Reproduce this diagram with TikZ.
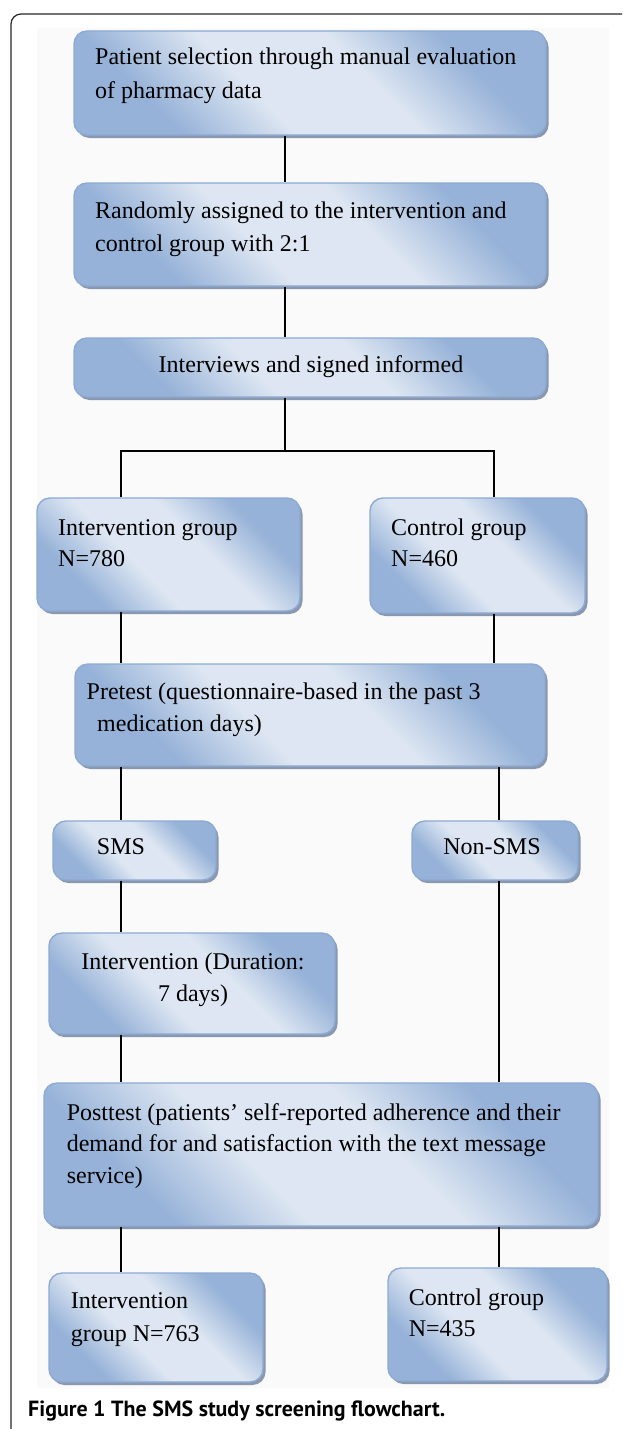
\documentclass[tikz,border=0pt]{standalone}
\usepackage{fontspec}
\setmainfont{Liberation Serif}
\newfontfamily\capfont{PT Sans}
\usetikzlibrary{shadows}
\definecolor{bxdark}{RGB}{150,178,216}
\definecolor{bxlight}{RGB}{221,230,242}
\definecolor{bxborder}{RGB}{140,170,212}
\definecolor{bxshadow}{RGB}{138,152,175}
\definecolor{bgfaint}{RGB}{250,250,250}
\pgfdeclarehorizontalshading{boxshade}{100bp}{color(0bp)=(bxdark); color(28bp)=(bxdark); color(42bp)=(bxlight); color(58bp)=(bxlight); color(72bp)=(bxdark); color(100bp)=(bxdark)}
\tikzset{
  box/.style={draw=bxborder, line width=1.4pt, rounded corners=13pt,
    shading=boxshade, shading angle=45,
    inner sep=0pt,
    general shadow={fill=bxshadow, shadow xshift=2.5pt, shadow yshift=-3pt}},
  txt/.style={anchor=base west, inner sep=0pt, font=\fontsize{24}{33}\selectfont},
  ctxt/.style={anchor=base, inner sep=0pt, font=\fontsize{24}{33}\selectfont},
  conn/.style={draw=black, line width=1.2pt},
}
\begin{document}
\begin{tikzpicture}[x=1pt,y=-1pt]
\useasboundingbox (0,0) rectangle (622,1429);
\clip (0,0) rectangle (622,1429);
\fill[bgfaint] (37,28) rectangle (609,1388);
\draw[line width=1.2pt, draw=black!85, rounded corners=10pt] (11,14) rectangle (700,1445);

% boxes
\node[box, minimum width=472pt, minimum height=104pt] (b1) at (310,83) {};
\node[box, minimum width=472pt, minimum height=103pt] (b2) at (310,234.5) {};
\node[box, minimum width=472pt, minimum height=59pt] (b3) at (310,367.5) {};
\node[box, minimum width=263pt, minimum height=113pt] (bIL) at (168.5,554.5) {};
\node[box, minimum width=215pt, minimum height=115pt] (bCR) at (477.5,555.5) {};
\node[box, minimum width=470pt, minimum height=102pt] (bPre) at (310,715) {};
\node[box, minimum width=163pt, minimum height=59pt] (bSMS) at (134.5,850.5) {};
\node[box, minimum width=166pt, minimum height=59pt] (bNon) at (495,850.5) {};
\node[box, minimum width=286pt, minimum height=101pt] (bDur) at (192,983.5) {};
\node[box, minimum width=554pt, minimum height=143pt] (bPost) at (321,1154.5) {};
\node[box, minimum width=214pt, minimum height=109pt] (bIL2) at (156,1327.5) {};
\node[box, minimum width=219pt, minimum height=113pt] (bCR2) at (497.5,1324.5) {};

% texts
\node[txt] (t1a) at (95,65) {Patient selection through manual evaluation};
\node[txt] (t1b) at (95,99) {of pharmacy data};
\node[txt] (t2a) at (95,218) {Randomly assigned to the intervention and};
\node[txt] (t2b) at (95,251) {control group with 2:1};
\node[ctxt] (t3) at (311,372) {Interviews and signed informed};
\node[txt] (tILa) at (58,535) {Intervention group};
\node[txt] (tILb) at (58,566) {N=780};
\node[txt] (tCRa) at (391,535) {Control group};
\node[txt] (tCRb) at (391,566) {N=460};
\node[txt] (tPa) at (86.5,699) {Pretest (questionnaire-based in the past 3};
\node[txt] (tPb) at (97,731) {medication days)};
\node[ctxt] (tS) at (121,854) {SMS};
\node[ctxt] (tN) at (492,854) {Non-SMS};
\node[ctxt] (tDa) at (193,969) {Intervention (Duration:};
\node[ctxt] (tDb) at (193,1001) {7 days)};
\node[txt] (tPoa) at (66.6,1120) {Posttest (patients’ self-reported adherence and their};
\node[txt] (tPob) at (66.6,1151) {demand for and satisfaction with the text message};
\node[txt] (tPoc) at (66.6,1183) {service)};
\node[txt] (tIL2a) at (70.6,1308) {Intervention};
\node[txt] (tIL2b) at (70.6,1341) {group N=763};
\node[txt] (tCR2a) at (408.6,1305) {Control group};
\node[txt] (tCR2b) at (408.6,1336) {N=435};

\node[anchor=base west, inner sep=0pt] (cap) at (28,1416) {\resizebox{417pt}{!}{\capfont\bfseries\fontsize{19}{22}\selectfont Figure 1 The SMS study screening flowchart.}};

% connector columns
\coordinate (xC) at (285,0);
\coordinate (xL) at (121,0);
\coordinate (xR) at (494,0);
\coordinate (xR2) at (499,0);
\coordinate (jn) at (285,451);

\path[conn] (b1.south -| xC) -- (b2.north -| xC);
\path[conn] (b2.south -| xC) -- (b3.north -| xC);
\path[conn] (b3.south -| xC) -- (jn);
\path[conn] (bIL.north -| xL) |- (jn) -| (bCR.north -| xR);
\path[conn] (bIL.south -| xL) -- (bPre.north -| xL);
\path[conn] (bCR.south -| xR) -- (bPre.north -| xR);
\path[conn] (bPre.south -| xL) -- (bSMS.north -| xL);
\path[conn] (bPre.south -| xR2) -- (bNon.north -| xR2);
\path[conn] (bSMS.south -| xL) -- (bDur.north -| xL);
\path[conn] (bDur.south -| xL) -- (bPost.north -| xL);
\path[conn] (bNon.south -| xR2) -- (bPost.north -| xR2);
\path[conn] (bPost.south -| xL) -- (bIL2.north -| xL);
\path[conn] (bPost.south -| xR2) -- (bCR2.north -| xR2);
\end{tikzpicture}
\end{document}
